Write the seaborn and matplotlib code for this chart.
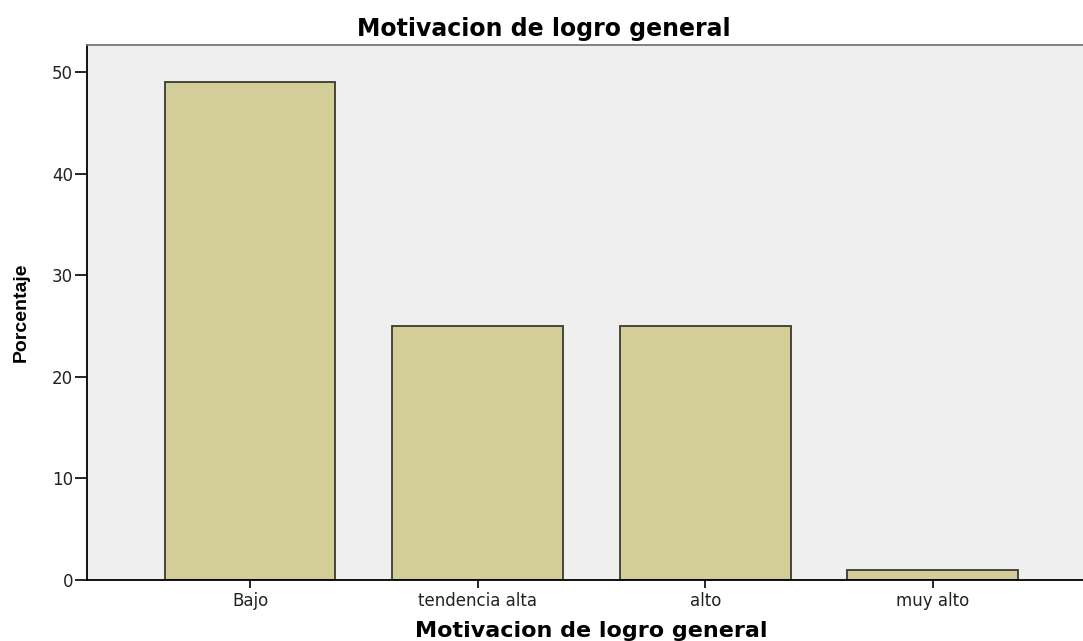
import os
import matplotlib
matplotlib.use("Agg")
import matplotlib.pyplot as plt
from matplotlib import font_manager
from matplotlib.font_manager import FontProperties
import seaborn as sns
import pandas as pd

categories = ["Bajo", "tendencia alta", "alto", "muy alto"]
values = [49, 25, 25, 1]
yticks = [0, 10, 20, 30, 40, 50]

sns.set_style("white")
plt.rcParams['font.family'] = ['DejaVu Sans']

files = {os.path.basename(f.fname): f.fname for f in font_manager.fontManager.ttflist}


def fp(fname, fallback_family, size, weight="normal"):
    if fname in files:
        return FontProperties(fname=files[fname], size=size)
    return FontProperties(family=fallback_family, size=size, weight=weight)


regular = lambda s: fp("DejaVuSans.ttf", "DejaVu Sans", s)
bold = lambda s: fp("DejaVuSans-Bold.ttf", "DejaVu Sans", s, "bold")
if "LiberationSansNarrow-Bold.ttf" in files:
    ylab_fp = FontProperties(fname=files["LiberationSansNarrow-Bold.ttf"], size=17)
else:
    ylab_fp = FontProperties(family="Liberation Sans", weight="bold", size=14)

df = pd.DataFrame({"cat": categories, "val": values})

W, H = 1083, 641
fig = plt.figure(figsize=(W / 100, H / 100), dpi=100)
ax = fig.add_axes([87 / W, (H - 580) / H, 1 - 87 / W, (580 - 45) / H])
ax.set_facecolor("#efefef")

sns.barplot(data=df, x="cat", y="val", ax=ax, color="#d3cd98", width=0.75,
            edgecolor="#3a3a30", linewidth=1.3, saturation=1)

ax.set_xlim(-0.7165, 3.66)
ax.set_ylim(0, 52.66)
ax.set_yticks(yticks)
ax.set_yticklabels([str(t) for t in yticks])

for s in ["left", "bottom"]:
    ax.spines[s].set_color("black")
    ax.spines[s].set_linewidth(1.3)
ax.spines["top"].set_color("#777777")
ax.spines["top"].set_linewidth(1.3)
ax.spines["right"].set_visible(False)

ax.tick_params(axis="both", direction="out", width=1.2, color="black",
               left=True, bottom=True, labelcolor="#222222")
ax.tick_params(axis="y", length=9, pad=1)
ax.tick_params(axis="x", length=6, pad=3)
for lab in ax.get_xticklabels() + ax.get_yticklabels():
    lab.set_fontproperties(regular(12))

ax.set_xlabel("")
ax.set_ylabel("")

fig.text(21 / W, 1 - 312 / H, "Porcentaje", fontproperties=ylab_fp, rotation=90,
         ha="center", va="center", color="black")
fig.text(544 / W, 1 - 29 / H, "Motivacion de logro general", fontproperties=bold(17),
         ha="center", va="center", color="black")
fig.text(591 / W, 1 - 631 / H, "Motivacion de logro general", fontproperties=bold(16),
         ha="center", va="center", color="black")

fig.savefig("out.png", dpi=100)
